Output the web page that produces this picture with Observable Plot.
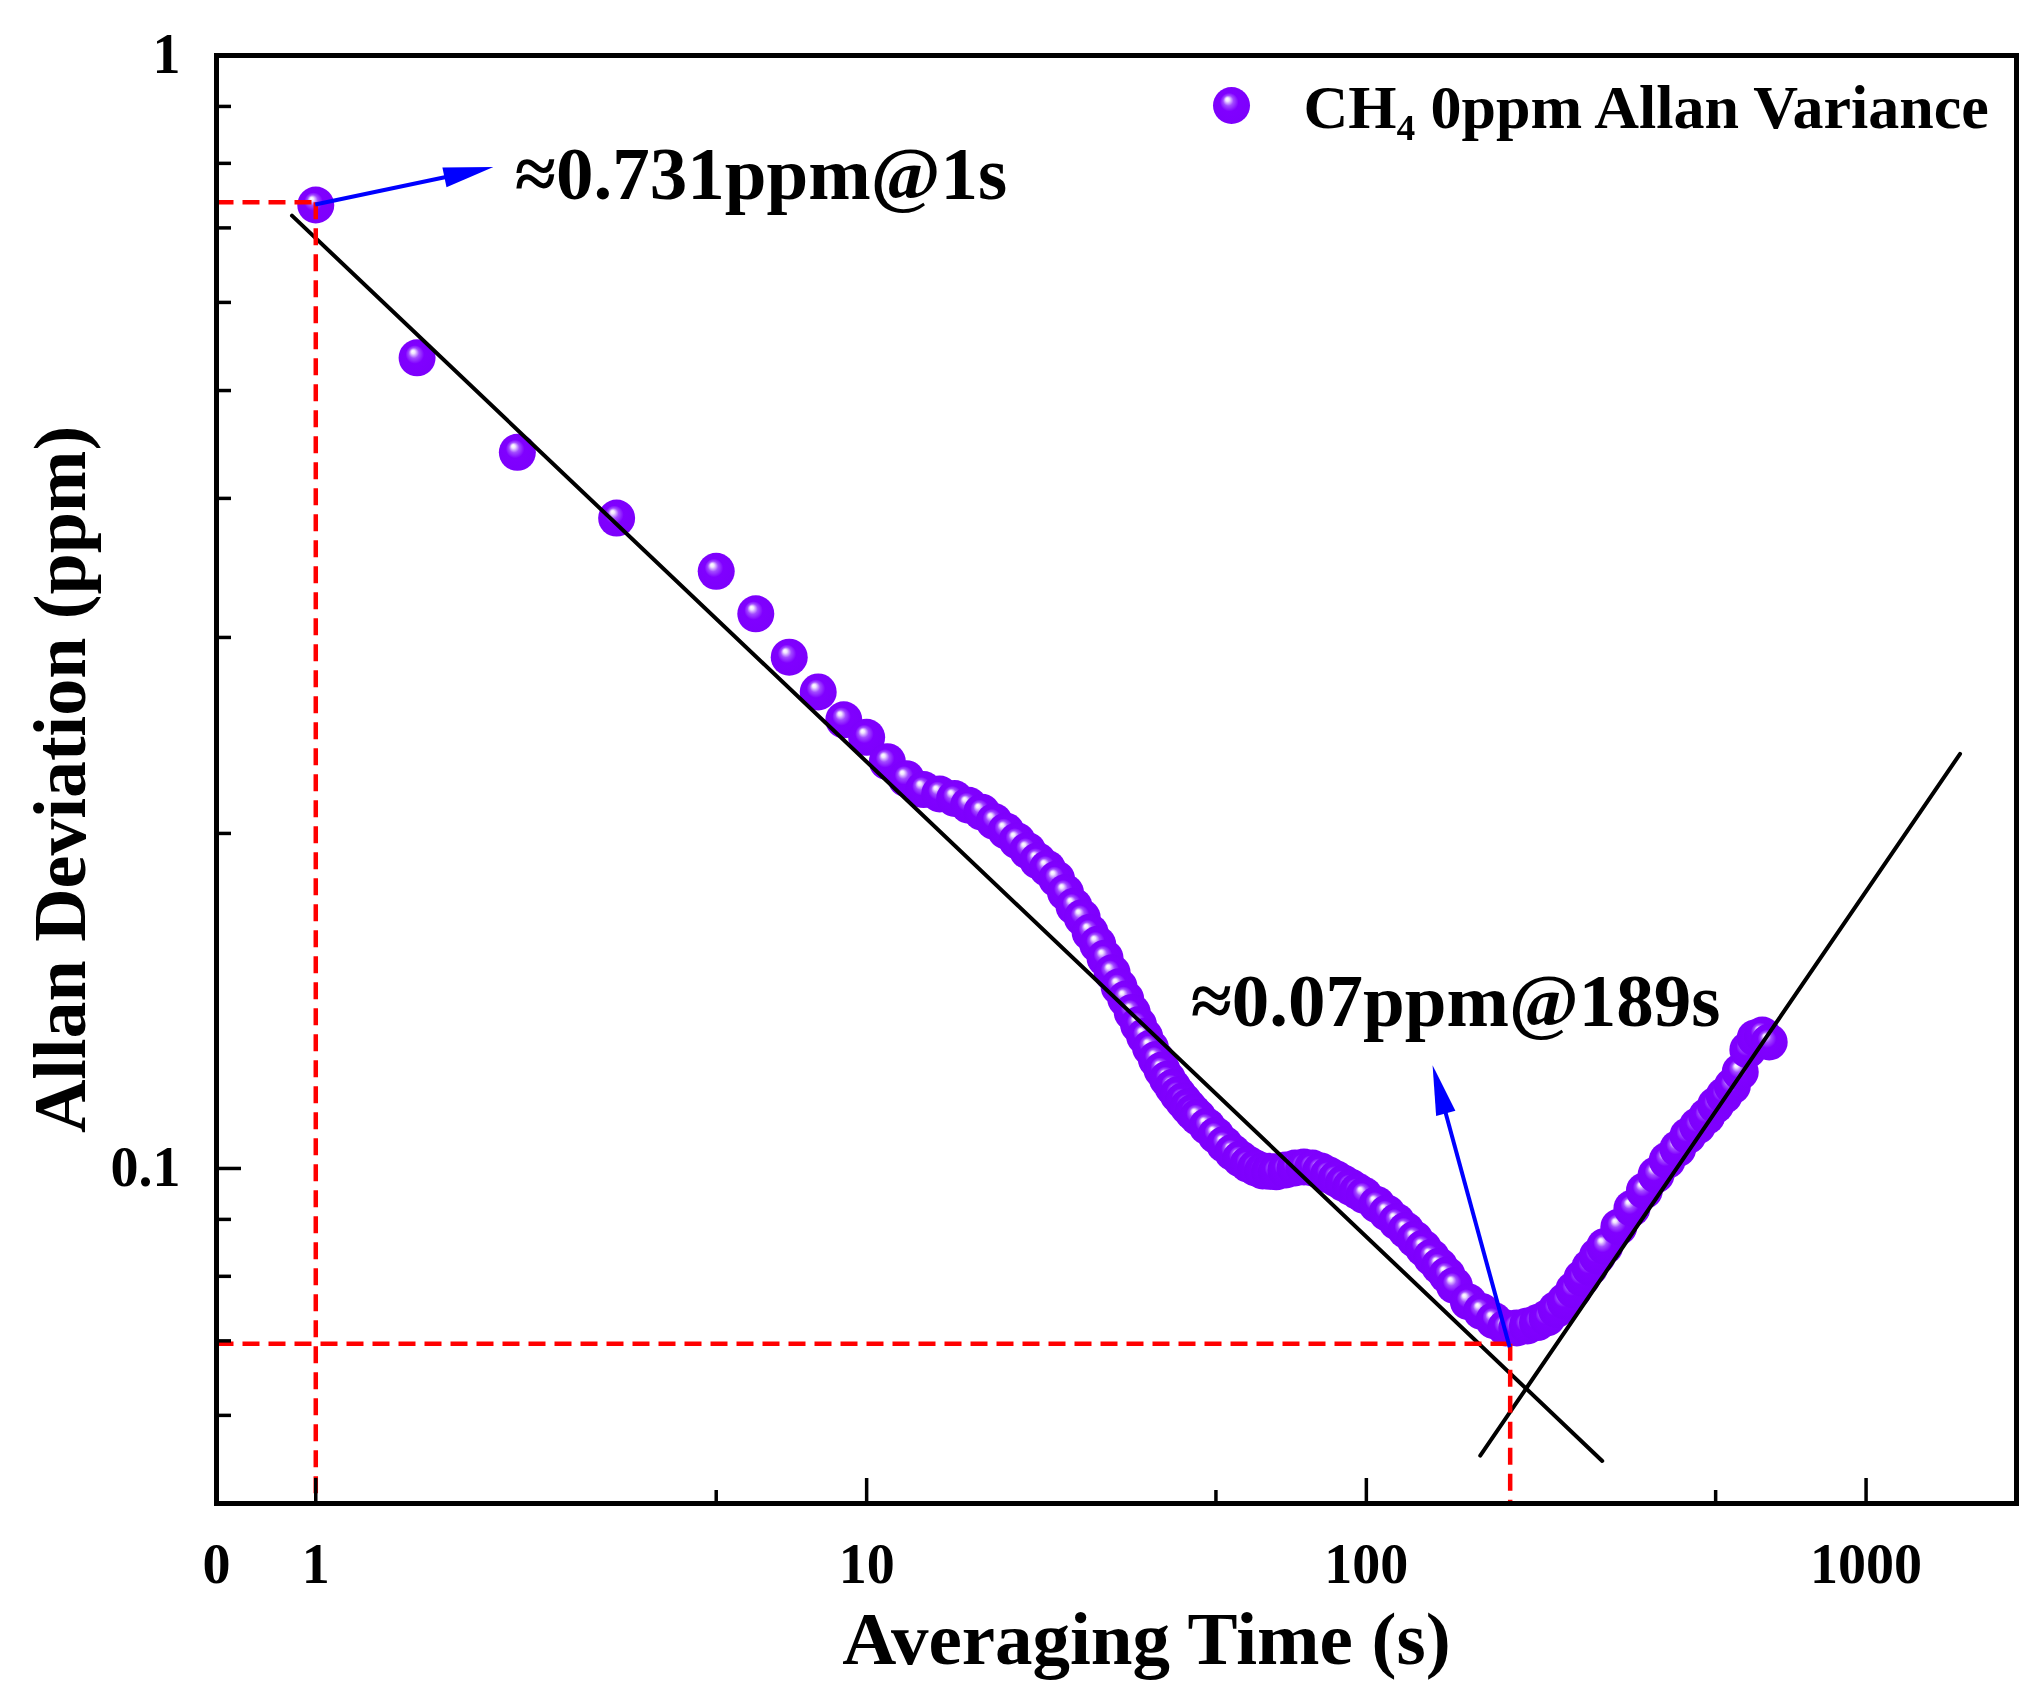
<!DOCTYPE html>
<html>
<head>
<meta charset="utf-8">
<script src="https://cdn.jsdelivr.net/npm/d3@7"></script>
<script src="https://cdn.jsdelivr.net/npm/@observablehq/plot@0.6"></script>
<style>
  html, body { margin: 0; padding: 0; background: #ffffff; }
  #chart svg { display: block; overflow: visible; }
</style>
</head>
<body>
<div id="chart"></div>
<script>
// ---- data ----
const tauValues = [
  0.79, 1.26, 2.0, 3.16, 5, 6, 7, 8, 9, 10,
  11, 12, 13, 14, 15, 16, 17, 18, 19, 20,
  21, 22, 23, 24, 25, 26, 27, 28, 29, 30,
  31, 32, 33, 34, 35, 36, 37, 38, 39, 40,
  41, 42, 43, 44, 45, 46, 48, 50, 52, 54,
  56, 58, 60, 62, 64, 66, 69, 72, 75, 78,
  81, 84, 87, 90, 93, 96, 99, 105, 110, 115,
  120, 125, 130, 135, 140, 145, 150, 160, 170, 180,
  190, 200, 210, 220, 230, 240, 250, 260, 270, 280,
  290, 300, 320, 340, 360, 380, 400, 420, 440, 460,
  480, 500, 520, 540, 560, 580, 600, 620, 640
];
const allanValues = [
  0.734, 0.535, 0.440, 0.384, 0.344, 0.315, 0.288, 0.268, 0.253, 0.244,
  0.232, 0.224, 0.219, 0.217, 0.215, 0.212, 0.209, 0.205, 0.201, 0.197,
  0.193, 0.189, 0.186, 0.182, 0.177, 0.172, 0.168, 0.163, 0.159, 0.1545,
  0.1499, 0.1456, 0.1420, 0.1381, 0.1346, 0.1314, 0.1283, 0.1253, 0.1226, 0.1203,
  0.1183, 0.1165, 0.1150, 0.1136, 0.1123, 0.1112, 0.1091, 0.1071, 0.1051, 0.1034,
  0.1020, 0.1009, 0.1001, 0.0995, 0.0994, 0.0993, 0.0997, 0.1001, 0.1003, 0.1001,
  0.0995, 0.0987, 0.0979, 0.0970, 0.0962, 0.0954, 0.0946, 0.0928, 0.0912, 0.0896,
  0.0880, 0.0864, 0.0848, 0.0832, 0.0817, 0.0802, 0.0785, 0.0759, 0.0744, 0.0730,
  0.0719, 0.0719, 0.0722, 0.0727, 0.0734, 0.0747, 0.0760, 0.0778, 0.0797, 0.0815,
  0.0834, 0.0851, 0.0886, 0.0921, 0.0955, 0.0987, 0.1017, 0.1042, 0.1070, 0.1092,
  0.1114, 0.1140, 0.1163, 0.1186, 0.1221, 0.1278, 0.1310, 0.1318, 0.1299
];

const xTickValues = [0.5, 0.79, 10, 100, 1000];
const xTickLabels = ["0", "1", "10", "100", "1000"];
const xMajorTicks = [0.79, 10, 100, 1000];
const xMinorTicks = [5, 50, 500];
const yTickValues = [1, 0.1];
const yTickLabels = ["1", "0.1"];
const yMajorTicks = [0.1];
const yMinorTicks = [0.06, 0.07, 0.08, 0.09, 0.2, 0.3, 0.4, 0.5, 0.6, 0.7, 0.8, 0.9];

const fitLineA_x = [0.708, 296.5];
const fitLineA_y = [0.718, 0.0546];
const fitLineB_x = [169, 1542];
const fitLineB_y = [0.0552, 0.2358];

const guideX1 = [0.5, 0.79, 0.5, 194];
const guideY1 = [0.738, 0.738, 0.0696, 0.0696];
const guideX2 = [0.79, 0.79, 194, 194];
const guideY2 = [0.738, 0.05, 0.0696, 0.05];

const arrowX1 = [0.79, 194];
const arrowY1 = [0.734, 0.0690];
const arrowX2 = [1.795, 136];
const arrowY2 = [0.793, 0.1237];

const noteTexts = ["≈0.731ppm@1s", "≈0.07ppm@189s"];
const noteX = [1.977, 44.5];
const noteY = [0.743, 0.1343];

const legendLabel = "CH₄ 0ppm Allan Variance";
const xAxisLabel = "Averaging Time (s)";
const yAxisLabel = "Allan Deviation (ppm)";

// ---- layout ----
const W = 2037, H = 1702;
const mL = 216, mR = 21, mT = 55, mB = 199;
const innerW = W - mL - mR, innerH = H - mT - mB;
const FONT = "'Liberation Serif', 'Times New Roman', serif";
const NS = "http://www.w3.org/2000/svg";
const R = 18.5;

const points = tauValues.map((t, i) => ({tau: t, adev: allanValues[i]}));
const fitA = fitLineA_x.map((x, i) => ({x, y: fitLineA_y[i]}));
const fitB = fitLineB_x.map((x, i) => ({x, y: fitLineB_y[i]}));

function sphereDefs() {
  const defs = document.createElementNS(NS, "defs");
  const grad = document.createElementNS(NS, "radialGradient");
  grad.setAttribute("id", "ball");
  grad.setAttribute("cx", "0.5"); grad.setAttribute("cy", "0.5"); grad.setAttribute("r", "0.5");
  grad.setAttribute("fx", "0.38"); grad.setAttribute("fy", "0.32");
  [["0", "#ffffff"], ["0.1", "#f0e4ff"], ["0.28", "#a24bff"], ["0.5", "#8000ff"], ["1", "#7d00fc"]]
    .forEach(([o, c]) => {
      const s = document.createElementNS(NS, "stop");
      s.setAttribute("offset", o); s.setAttribute("stop-color", c);
      grad.appendChild(s);
    });
  defs.appendChild(grad);
  return defs;
}

function blueArrows(index, scales) {
  const g = document.createElementNS(NS, "g");
  const headLen = 50, halfW = 10;
  for (let i = 0; i < arrowX1.length; i++) {
    const x1 = scales.x(arrowX1[i]), y1 = scales.y(arrowY1[i]);
    const x2 = scales.x(arrowX2[i]), y2 = scales.y(arrowY2[i]);
    const dx = x2 - x1, dy = y2 - y1, len = Math.hypot(dx, dy);
    const ux = dx / len, uy = dy / len;
    const bx = x2 - ux * headLen, by = y2 - uy * headLen;
    const line = document.createElementNS(NS, "line");
    line.setAttribute("x1", x1); line.setAttribute("y1", y1);
    line.setAttribute("x2", bx + ux * 4); line.setAttribute("y2", by + uy * 4);
    line.setAttribute("stroke", "#0000ff"); line.setAttribute("stroke-width", 4);
    g.appendChild(line);
    const poly = document.createElementNS(NS, "polygon");
    poly.setAttribute("points", `${x2},${y2} ${bx - uy * halfW},${by + ux * halfW} ${bx + uy * halfW},${by - ux * halfW}`);
    poly.setAttribute("fill", "#0000ff");
    g.appendChild(poly);
  }
  return g;
}

const chart = Plot.plot({
  width: W, height: H,
  marginLeft: mL, marginRight: mR, marginTop: mT, marginBottom: mB,
  style: {fontFamily: FONT, fontWeight: "bold", fontSize: "56px", color: "black", background: "white", overflow: "visible"},
  x: {type: "log", domain: [0.5, 2000], axis: null},
  y: {type: "log", domain: [0.05, 1], axis: null},
  marks: [
    sphereDefs,
    Plot.dot(points, {x: "tau", y: "adev", r: R, fill: "url(#ball)", stroke: "none"}),
    Plot.line(fitA, {x: "x", y: "y", stroke: "black", strokeWidth: 4}),
    Plot.line(fitB, {x: "x", y: "y", stroke: "black", strokeWidth: 4}),
    Plot.link(guideX1, {
      x1: (d, i) => guideX1[i], y1: (d, i) => guideY1[i],
      x2: (d, i) => guideX2[i], y2: (d, i) => guideY2[i],
      stroke: "#ff0000", strokeWidth: 4.5, strokeDasharray: "17,9"
    }),
    blueArrows,
    Plot.tickX(xMajorTicks, {x: d => d, insetTop: innerH - 25, stroke: "black", strokeWidth: 3.5}),
    Plot.tickX(xMinorTicks, {x: d => d, insetTop: innerH - 13, stroke: "black", strokeWidth: 3.5}),
    Plot.tickY(yMajorTicks, {y: d => d, insetRight: innerW - 25, stroke: "black", strokeWidth: 3.5}),
    Plot.tickY(yMinorTicks, {y: d => d, insetRight: innerW - 15, stroke: "black", strokeWidth: 3.5}),
    Plot.text(xTickValues, {
      x: d => d, text: (d, i) => xTickLabels[i], frameAnchor: "bottom", dy: 40,
      textAnchor: "middle", lineAnchor: "top", fontSize: 56, fontWeight: "bold", fill: "black"
    }),
    Plot.text(yTickValues, {
      y: d => d, text: (d, i) => yTickLabels[i], frameAnchor: "left", dx: -36,
      textAnchor: "end", lineAnchor: "middle", fontSize: 56, fontWeight: "bold", fill: "black"
    }),
    Plot.frame({stroke: "black", strokeWidth: 5}),
    Plot.text(noteTexts, {
      x: (d, i) => noteX[i], y: (d, i) => noteY[i], text: d => d,
      textAnchor: "start", lineAnchor: "bottom", fontSize: 75, fontWeight: "bold", fill: "black"
    }),
    Plot.dot([legendLabel], {frameAnchor: "top-left", dx: 1015, dy: 50, r: R, fill: "url(#ball)", stroke: "none"}),
    Plot.text([legendLabel], {
      frameAnchor: "top-left", dx: 1087, dy: 72, text: d => d,
      textAnchor: "start", lineAnchor: "bottom", fontSize: 62, fontWeight: "bold", fill: "black"
    }),
    Plot.text([xAxisLabel], {
      frameAnchor: "bottom", dx: 30, dy: 160, text: d => d,
      textAnchor: "middle", lineAnchor: "bottom", fontSize: 75, fontWeight: "bold", fill: "black"
    }),
    Plot.text([yAxisLabel], {
      frameAnchor: "left", dx: -132, text: d => d, rotate: -90,
      textAnchor: "middle", lineAnchor: "bottom", fontSize: 74, fontWeight: "bold", fill: "black"
    })
  ]
});
document.getElementById("chart").appendChild(chart);
</script>
</body>
</html>
